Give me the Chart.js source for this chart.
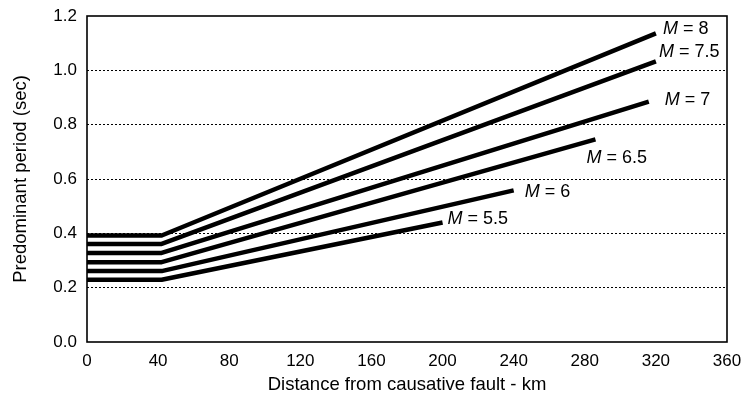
<!DOCTYPE html>
<html>
<head>
<meta charset="utf-8">
<script src="https://cdn.jsdelivr.net/npm/chart.js@4.4.1/dist/chart.umd.min.js"></script>
<style>
  html, body { margin: 0; padding: 0; background: #fff; }
  #wrap { width: 741px; height: 398px; }
</style>
</head>
<body>
<div id="wrap"><canvas id="c" width="741" height="398"></canvas></div>
<script>
// Magnitude of each curve (label text)
const magnitudes = ['8', '7.5', '7', '6.5', '6', '5.5'];
// Distance (km) at which the period starts to grow, and where each curve ends
const kneeDistance = 42;
const endDistances = [320, 320, 316, 286, 240, 200];
// Predominant period (sec) on the flat part and at the end of each curve
const flatPeriods = [0.392, 0.361, 0.328, 0.294, 0.261, 0.229];
const endPeriods = [1.136, 1.033, 0.885, 0.746, 0.558, 0.440];
// Axis ticks
const xTicks = [0, 40, 80, 120, 160, 200, 240, 280, 320, 360];
const yTicks = [0.0, 0.2, 0.4, 0.6, 0.8, 1.0, 1.2];

// Label placement relative to the end of each curve (pixels)
const labelOffsets = [
  [7, -4], [3, -9], [16, -2], [-9, 19], [11, 2], [5, -3]
];

const FONT = '"Liberation Sans", Arial, Helvetica, sans-serif';

const datasets = magnitudes.map((m, i) => ({
  label: 'M = ' + m,
  data: [
    { x: 0, y: flatPeriods[i] },
    { x: kneeDistance, y: flatPeriods[i] },
    { x: endDistances[i], y: endPeriods[i] }
  ],
  borderColor: '#000',
  borderWidth: 4.5,
  borderCapStyle: 'butt',
  borderJoinStyle: 'round',
  pointRadius: 0,
  tension: 0,
  fill: false
}));

// Frame around the plot area and the magnitude labels at curve ends
const framePlugin = {
  id: 'frame',
  afterDatasetsDraw(chart) {
    const { ctx, chartArea: a } = chart;
    ctx.save();
    ctx.strokeStyle = '#000';
    ctx.lineWidth = 1.6;
    ctx.strokeRect(a.left, a.top, a.right - a.left, a.bottom - a.top);
    ctx.restore();

    ctx.save();
    ctx.fillStyle = '#000';
    ctx.textBaseline = 'middle';
    chart.data.datasets.forEach((ds, i) => {
      const meta = chart.getDatasetMeta(i);
      const last = meta.data[meta.data.length - 1];
      let x = last.x + labelOffsets[i][0];
      const y = last.y + labelOffsets[i][1];
      ctx.font = 'italic 18px ' + FONT;
      ctx.textAlign = 'left';
      ctx.fillText('M', x, y);
      x += ctx.measureText('M').width;
      ctx.font = '18px ' + FONT;
      ctx.fillText(' = ' + magnitudes[i], x, y);
    });
    ctx.restore();
  }
};

new Chart(document.getElementById('c'), {
  type: 'line',
  data: { datasets },
  options: {
    responsive: false,
    animation: false,
    devicePixelRatio: 1,
    layout: { padding: { left: 0, right: 14, top: 16, bottom: 0 } },
    plugins: { legend: { display: false }, tooltip: { enabled: false } },
    scales: {
      x: {
        type: 'linear',
        min: 0,
        max: 360,
        afterBuildTicks: s => { s.ticks = xTicks.map(v => ({ value: v })); },
        afterFit: s => { s.height = 56; s.paddingLeft = 0; s.paddingRight = 0; },
        grid: { display: false, drawTicks: false },
        border: { display: false },
        ticks: {
          color: '#000',
          padding: 9,
          maxRotation: 0,
          font: { family: FONT, size: 17 }
        },
        title: {
          display: true,
          text: 'Distance from causative fault - km',
          color: '#000',
          font: { family: FONT, size: 18.5 },
          padding: { top: 0, bottom: 2 }
        }
      },
      y: {
        type: 'linear',
        min: 0,
        max: 1.2,
        afterBuildTicks: s => { s.ticks = yTicks.map(v => ({ value: v })); },
        afterFit: s => { s.width = 87; s.paddingTop = 0; s.paddingBottom = 0; },
        grid: {
          drawTicks: false,
          color: ctx => (ctx.tick && ctx.tick.value > 0.01 && ctx.tick.value < 1.19) ? '#000' : 'rgba(0,0,0,0)',
          lineWidth: 1
        },
        border: { display: false, dash: [2, 2] },
        ticks: {
          color: '#000',
          padding: 10,
          font: { family: FONT, size: 17 },
          callback: v => Number(v).toFixed(1)
        },
        title: {
          display: true,
          text: 'Predominant period (sec)',
          color: '#000',
          font: { family: FONT, size: 18.5 },
          padding: { top: 10, bottom: 0 }
        }
      }
    }
  },
  plugins: [framePlugin]
});
</script>
</body>
</html>
